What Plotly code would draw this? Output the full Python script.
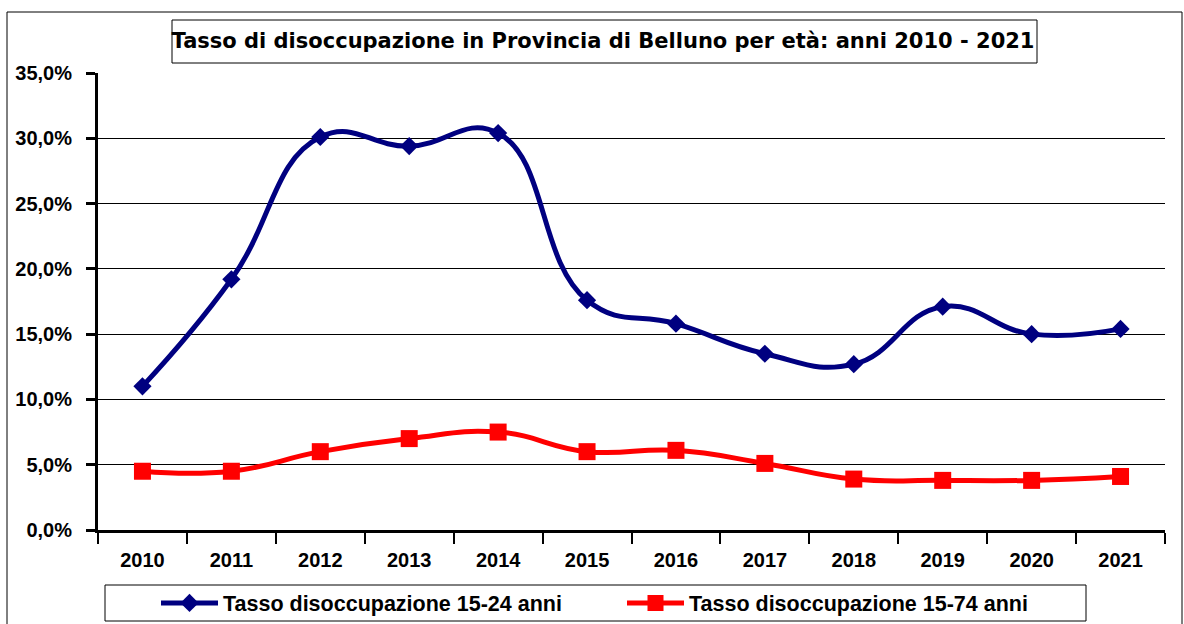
import plotly.graph_objects as go

years = ["2010", "2011", "2012", "2013", "2014", "2015", "2016", "2017", "2018", "2019", "2020", "2021"]
youth_rate = [11.0, 19.2, 30.1, 29.4, 30.4, 17.6, 15.8, 13.5, 12.7, 17.1, 15.0, 15.4]
total_rate = [4.5, 4.5, 6.0, 7.0, 7.5, 6.0, 6.1, 5.1, 3.9, 3.8, 3.8, 4.1]
y_ticks = [0, 5, 10, 15, 20, 25, 30, 35]
y_tick_labels = ["0,0%", "5,0%", "10,0%", "15,0%", "20,0%", "25,0%", "30,0%", "35,0%"]

title_text = "Tasso di disoccupazione in Provincia di Belluno per età: anni 2010 - 2021"
name_youth = "Tasso disoccupazione 15-24 anni"
name_total = "Tasso disoccupazione 15-74 anni"

W, H = 1184, 624
L, R, T, B = 98, 1165, 73, 530


def px(x):
    return (x - L) / (R - L)


def py(y):
    return (B - y) / (B - T)


fig = go.Figure()
fig.add_trace(go.Scatter(
    x=years, y=youth_rate, name=name_youth, mode="lines+markers",
    line=dict(color="#000080", width=5, shape="spline", smoothing=1.3),
    marker=dict(symbol="diamond", size=14, color="#000080"),
))
fig.add_trace(go.Scatter(
    x=years, y=total_rate, name=name_total, mode="lines+markers",
    line=dict(color="#FF0000", width=5, shape="spline", smoothing=1.3),
    marker=dict(symbol="square", size=17, color="#FF0000"),
))

tickfont = dict(family="Liberation Sans, Arial, sans-serif", size=20, color="black", weight="bold")

fig.update_layout(
    width=W, height=H,
    margin=dict(l=L, r=W - R, t=T, b=H - B, autoexpand=False),
    paper_bgcolor="white", plot_bgcolor="white",
    showlegend=True,
    title=dict(
        text=title_text,
        font=dict(family="DejaVu Sans, Verdana, sans-serif", size=21, color="black", weight="bold"),
        x=px(603), xref="paper", xanchor="center",
        y=1 - 41 / H, yref="container", yanchor="middle",
    ),
    xaxis=dict(
        type="category", tickson="boundaries", ticks="outside", ticklen=11, tickwidth=2,
        tickcolor="black", showline=True, linecolor="black", linewidth=3,
        showgrid=False, tickfont=tickfont, ticklabelstandoff=10, automargin=False,
        range=[-0.5, len(years) - 0.5],
    ),
    yaxis=dict(
        range=[0, 35], tickvals=y_ticks, ticktext=y_tick_labels,
        ticks="outside", ticklen=9, tickwidth=3, tickcolor="black",
        showline=True, linecolor="black", linewidth=3,
        showgrid=True, gridcolor="black", gridwidth=1, zeroline=False,
        tickfont=tickfont, ticklabelstandoff=10, automargin=False,
    ),
    legend=dict(
        orientation="h", x=px(622), xanchor="center", y=py(603), yanchor="middle",
        xref="paper", yref="paper",
        bgcolor="rgba(0,0,0,0)", borderwidth=0,
        itemwidth=57, entrywidth=394,
        font=dict(family="Liberation Sans, Arial, sans-serif", size=21.5, color="black", weight="bold"),
        traceorder="normal",
    ),
    shapes=[
        dict(type="rect", xref="paper", yref="paper",
             x0=px(7), x1=px(1182), y0=py(640), y1=py(12),
             line=dict(color="black", width=1), fillcolor="rgba(0,0,0,0)", layer="below"),
        dict(type="rect", xref="paper", yref="paper",
             x0=px(172), x1=px(1037), y0=py(63), y1=py(20),
             line=dict(color="black", width=1), fillcolor="white", layer="above"),
        dict(type="rect", xref="paper", yref="paper",
             x0=px(105), x1=px(1086), y0=py(621), y1=py(585),
             line=dict(color="black", width=1), fillcolor="white", layer="above"),
    ],
)

fig.write_html("out.html", config={"displayModeBar": False},
               post_script="document.body.style.margin='0';")
